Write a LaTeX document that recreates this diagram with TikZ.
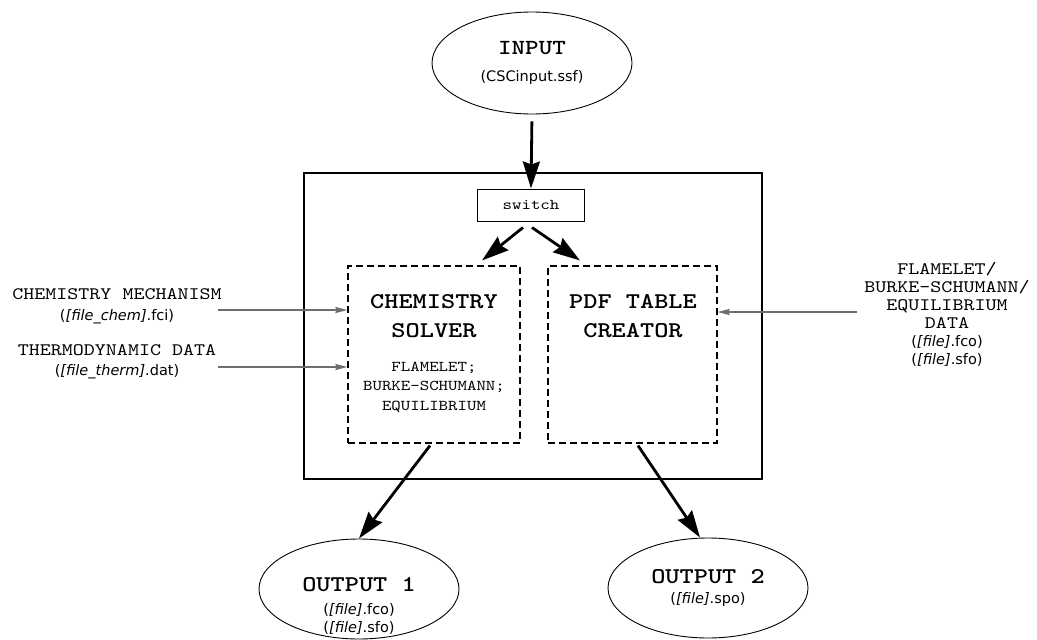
\documentclass[tikz,border=0pt]{standalone}
\usepackage{fontspec}
\usetikzlibrary{arrows.meta,shapes.geometric}
\newfontfamily\cour{lmmono10-regular}[Extension=.otf,BoldFont=lmmonolt10-bold,FakeStretch=1.2]
\newfontfamily\vsans{DejaVu Sans}
\definecolor{thinarrow}{HTML}{6E6E6E}
\newcommand\bigmono{\cour\bfseries\fontsize{22.5}{29}\selectfont}
\newcommand\midmono{\cour\fontsize{17.5}{18}\selectfont}
\newcommand\smallmono{\cour\fontsize{15}{19.5}\selectfont}
\newcommand\fsans{\vsans\fontsize{14.5}{18}\selectfont}
\begin{document}
\begin{tikzpicture}[x=1pt,y=-1pt,
  oval/.style={draw,ellipse,line width=0.9pt,inner sep=0pt,align=center},
  dashbox/.style={draw,dash pattern=on 7pt off 4pt,line width=1.1pt,inner sep=0pt},
  bigarrow/.style={line width=2.8pt,-{Stealth[length=27pt,width=17pt,inset=3pt]}},
  smallarrow/.style={line width=1.6pt,thinarrow,-{Stealth[length=12pt,width=6pt,inset=1pt]}},
  txt/.style={inner sep=0pt,align=center}]
\useasboundingbox (0,0) rectangle (1037,640);
% outer frame
\node[draw,line width=2pt,minimum width=458pt,minimum height=306pt,inner sep=0pt] (frame) at (533,326) {};
% input
\node[oval,font=\fsans,minimum width=200pt,minimum height=102pt] (input) at (532,63)
  {{\cour\bfseries\fontsize{21.5}{24}\selectfont INPUT}\\[9pt](CSCinput.ssf)};
% switch
\node[draw,line width=1pt,minimum width=107pt,minimum height=32pt,inner sep=0pt] (switch) at (531,205)
  {\smallmono switch};
% inner dashed boxes
\node[dashbox,minimum width=172pt,minimum height=177pt] (chem) at (434,354.5) {};
\node[dashbox,minimum width=169pt,minimum height=177pt] (pdf) at (632.5,354.5) {};
\node[txt,font=\bigmono] (chemtitle) at (434,316) {CHEMISTRY\\SOLVER};
\node[txt,font=\smallmono] (chemlist) at (434,387) {FLAMELET;\\BURKE-SCHUMANN;\\EQUILIBRIUM};
\node[txt,font=\bigmono] (pdftitle) at (633,316) {PDF TABLE\\CREATOR};
% outputs
\node[oval,minimum width=200pt,minimum height=100pt] (out1) at (359,589) {};
\node[txt,font=\fsans] (out1txt) at (359,606)
  {{\bigmono OUTPUT 1}\\[5pt]({\itshape [file]}.fco)\\({\itshape [file]}.sfo)};
\node[oval,font=\fsans,minimum width=200pt,minimum height=100pt] (out2) at (708,588)
  {{\bigmono OUTPUT 2}\\[2pt]({\itshape [file]}.spo)};
% left labels
\node[txt,font=\fsans] (mech) at (117,306)
  {{\midmono CHEMISTRY MECHANISM}\\[3pt]({\itshape [file\_chem]}.fci)};
\node[txt,font=\fsans] (therm) at (117,362)
  {{\midmono THERMODYNAMIC DATA}\\[2pt]({\itshape [file\_therm]}.dat)};
% right label
\node[txt,font=\midmono] (flam) at (947,314)
  {FLAMELET/\\BURKE-SCHUMANN/\\EQUILIBRIUM\\DATA\\{\fsans ({\itshape [file]}.fco)}\\{\fsans ({\itshape [file]}.sfo)}};
% connectors
\coordinate (m1) at (218,310);
\coordinate (t1) at (218,367);
\coordinate (r1) at (857,312);
\draw[smallarrow] (m1) -- (m1 -| chem.west);
\draw[smallarrow] (t1) -- (t1 -| chem.west);
\draw[smallarrow] (r1) -- (r1 -| pdf.east);
\draw[bigarrow,shorten <=7pt] (input.south) -- (switch.north);
\draw[bigarrow] ([shift={(-8pt,-6pt)}]switch.south) -- ([shift={(48pt,5pt)}]chem.north);
\draw[bigarrow] ([shift={(1pt,-6pt)}]switch.south) -- ([shift={(-52.5pt,5pt)}]pdf.north);
\draw[bigarrow] ([shift={(-4pt,-2pt)}]chem.south) -- (out1.north);
\draw[bigarrow] ([shift={(5.5pt,-2pt)}]pdf.south) -- ([xshift=-8pt]out2.north);
\end{tikzpicture}
\end{document}
